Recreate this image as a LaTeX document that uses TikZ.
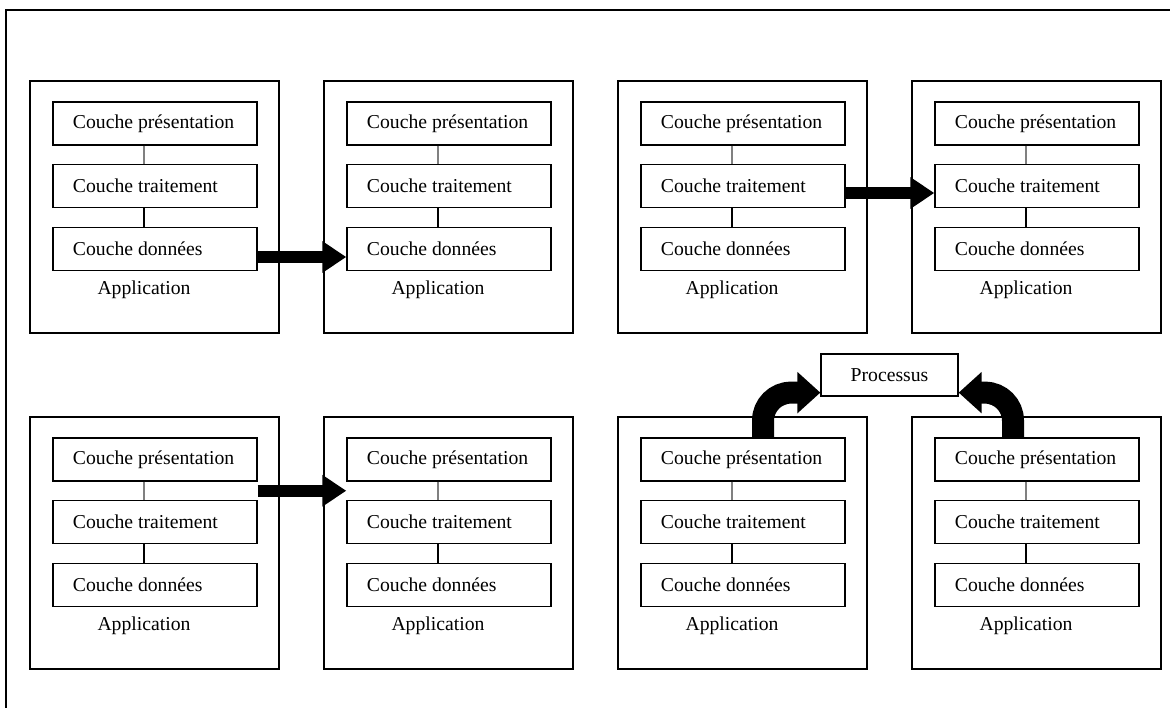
\documentclass[tikz,border=0pt]{standalone}
\usepackage{fontspec}
\setmainfont{Liberation Serif}
\usetikzlibrary{arrows.meta,calc}

\begin{document}
\begin{tikzpicture}[x=0.025cm, y=-0.025cm, font=\fontsize{14}{16}\selectfont,
    appbox/.style={draw=black, line width=0.9pt, minimum width=6.225cm, minimum height=6.3cm, inner sep=0pt},
    layer/.style={draw=black, line width=0.9pt, minimum width=5.1cm, minimum height=1.075cm, inner xsep=0.5cm, inner ysep=0pt},
    flow/.style={line width=0.3cm, -{Triangle[length=0.6cm, width=0.75cm]}},
    bendflow/.style={line width=0.55cm, rounded corners=0.7cm, -{Triangle[length=0.575cm, width=1cm]}}]
    \useasboundingbox (0,0) rectangle (1170,708);
    \draw[line width=1pt] (6,708) -- (6,10) -- (1170,10);

    %Nodes
    \foreach \n/\x/\y in {1/30/81, 2/324/81, 3/618/81, 4/912/81, 5/30/417, 6/324/417, 7/618/417, 8/912/417} {
        \node[appbox] (app\n) at (\x+124.5, \y+126) {};
        \node[layer] (p\n) at (\x+125, \y+42.5) {\makebox[4.1cm][l]{Couche présentation}};
        \node[layer] (t\n) at (\x+125, \y+105) {\makebox[4.1cm][l]{Couche traitement}};
        \node[layer] (d\n) at (\x+125, \y+168) {\makebox[4.1cm][l]{Couche données}};
        \node[] (lab\n) at (\x+114, \y+209) {Application};
        \draw[gray, line width=0.9pt] (p\n.south -| lab\n) -- (t\n.north -| lab\n);
        \draw[black, line width=0.8pt] (t\n.south -| lab\n) -- (d\n.north -| lab\n);
    }
    \node[draw=black, line width=0.9pt, minimum width=3.425cm, minimum height=1.05cm] at (889.5, 375) (proc) {Processus};

    %Lines
    \draw[flow] ([yshift=-0.2cm]d1.east) -- ([yshift=-0.2cm]d2.west);
    \draw[flow] ([yshift=-0.175cm]t3.east) -- ([yshift=-0.175cm]t4.west);
    \draw[flow] ($(p5.south east)!0.5!(t5.north east)$) -- ($(p6.south west)!0.5!(t6.north west)$);
    \draw[bendflow] ([xshift=0.5cm]p7.north) |- ([yshift=0.1cm]proc.south west);
    \draw[bendflow] ([xshift=-0.6cm]p8.north) |- ([yshift=0.1cm]proc.south east);

\end{tikzpicture}
\end{document}
